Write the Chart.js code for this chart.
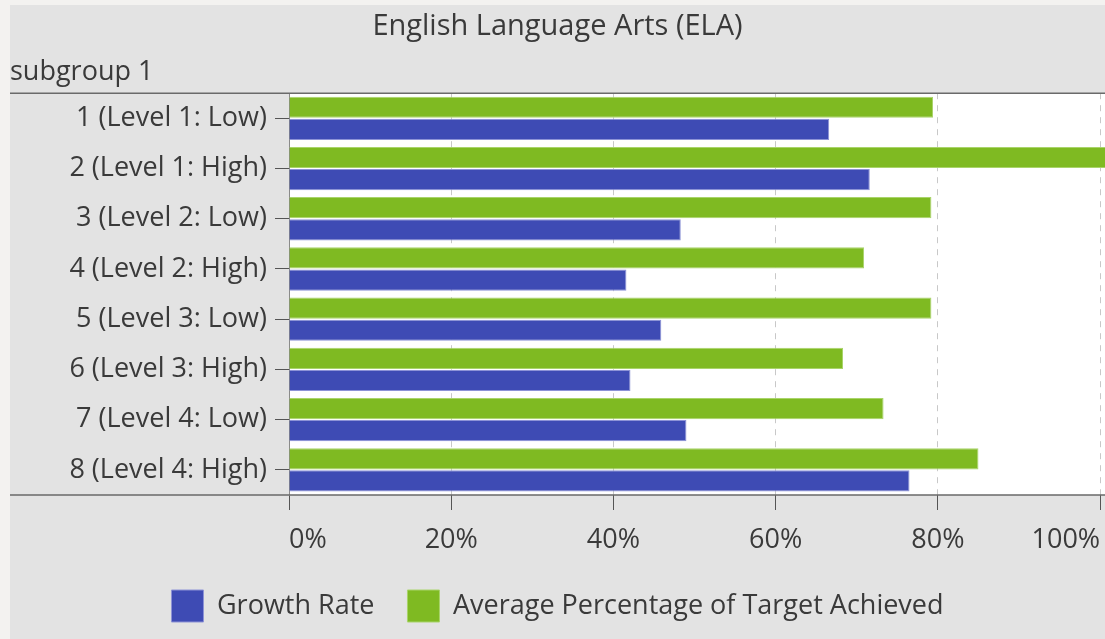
<!DOCTYPE html>
<html>
<head>
<meta charset="utf-8">
<script src="https://cdn.jsdelivr.net/npm/chart.js@4.4.1/dist/chart.umd.min.js"></script>
<style>
  html, body { margin: 0; padding: 0; background: #f3f2f0; }
  #wrap { position: absolute; left: 10px; top: 5px; width: 1095px; height: 634px; background: #e3e3e3; }
</style>
</head>
<body>
<div id="wrap"><canvas id="elaChart" width="1095" height="634"></canvas></div>
<script>
// Subgroup levels and the two measures (percent)
var levels = ['1 (Level 1: Low)', '2 (Level 1: High)', '3 (Level 2: Low)', '4 (Level 2: High)',
              '5 (Level 3: Low)', '6 (Level 3: High)', '7 (Level 4: Low)', '8 (Level 4: High)'];
var targetAchieved = [79.4, 101, 79.2, 70.9, 79.2, 68.3, 73.3, 85.0];
var growthRate = [66.6, 71.6, 48.3, 41.6, 45.9, 42.1, 49.0, 76.5];
var percentTicks = [0, 20, 40, 60, 80, 100];

var textColor = '#3a3a3a';
var fontFamily = '"Open Sans", Lato, sans-serif';

// White plot area plus the long rules above and below it
var framePlugin = {
    id: 'frame',
    beforeDraw: function(chart) {
        var ctx = chart.ctx, a = chart.chartArea;
        ctx.save();
        ctx.fillStyle = '#ffffff';
        ctx.fillRect(a.left, a.top, a.right - a.left, a.bottom - a.top);
        ctx.restore();
    },
    afterDraw: function(chart) {
        var ctx = chart.ctx, a = chart.chartArea;
        ctx.save();
        ctx.strokeStyle = '#6a6a6a';
        ctx.lineWidth = 1.5;
        ctx.beginPath();
        ctx.moveTo(0, a.top); ctx.lineTo(chart.width, a.top);
        ctx.moveTo(0, a.bottom); ctx.lineTo(chart.width, a.bottom);
        ctx.stroke();
        ctx.restore();
    }
};

var ctx = document.getElementById('elaChart').getContext('2d');
var elaChart = new Chart(ctx, {
    type: 'bar',
    data: {
        labels: levels,
        datasets: [{
            label: 'Average Percentage of Target Achieved',
            data: targetAchieved,
            backgroundColor: '#7fba22',
            borderColor: '#a9d46a',
            borderWidth: 1
        }, {
            label: 'Growth Rate',
            data: growthRate,
            backgroundColor: '#3e4bb4',
            borderColor: '#8d93d6',
            borderWidth: 1
        }]
    },
    options: {
        indexAxis: 'y',
        responsive: false,
        animation: false,
        devicePixelRatio: 1,
        layout: { padding: { left: 0, right: 0, top: 0, bottom: 7 } },
        datasets: {
            bar: { categoryPercentage: 0.88, barPercentage: 0.96 }
        },
        scales: {
            x: {
                min: 0,
                max: 100.6,
                afterBuildTicks: function(scale) {
                    scale.ticks = percentTicks.map(function(v) { return { value: v }; });
                },
                afterFit: function(scale) {
                    scale.paddingLeft = 0;
                    scale.paddingRight = 0;
                    scale.height = 62;
                },
                ticks: {
                    align: 'inner',
                    maxRotation: 0,
                    autoSkip: false,
                    color: textColor,
                    padding: 14,
                    font: { family: fontFamily, size: 27 },
                    callback: function(v) { return v + '%'; }
                },
                grid: {
                    color: '#c8c8c8',
                    tickColor: '#555555',
                    tickLength: 15,
                    tickBorderDash: []
                },
                border: { display: false, dash: [6, 6] }
            },
            y: {
                afterFit: function(scale) {
                    scale.width = 279;
                },
                ticks: {
                    color: textColor,
                    padding: 8,
                    font: { family: fontFamily, size: 27 }
                },
                grid: {
                    offset: false,
                    drawOnChartArea: false,
                    tickColor: '#555555',
                    tickLength: 14
                },
                border: { color: '#8a8a8a', width: 1 }
            }
        },
        plugins: {
            title: {
                display: true,
                text: 'English Language Arts (ELA)',
                color: textColor,
                font: { family: fontFamily, size: 29, weight: 'normal' },
                padding: { top: 4, bottom: 4 }
            },
            subtitle: {
                display: true,
                text: 'subgroup 1',
                align: 'start',
                color: textColor,
                font: { family: fontFamily, size: 27 },
                padding: { top: 8, bottom: 5 }
            },
            legend: {
                position: 'bottom',
                labels: {
                    color: textColor,
                    boxWidth: 32,
                    boxHeight: 32,
                    padding: 33,
                    font: { family: fontFamily, size: 27 },
                    sort: function(a, b) { return b.datasetIndex - a.datasetIndex; }
                }
            },
            tooltip: { enabled: false }
        }
    },
    plugins: [framePlugin]
});
</script>
</body>
</html>
